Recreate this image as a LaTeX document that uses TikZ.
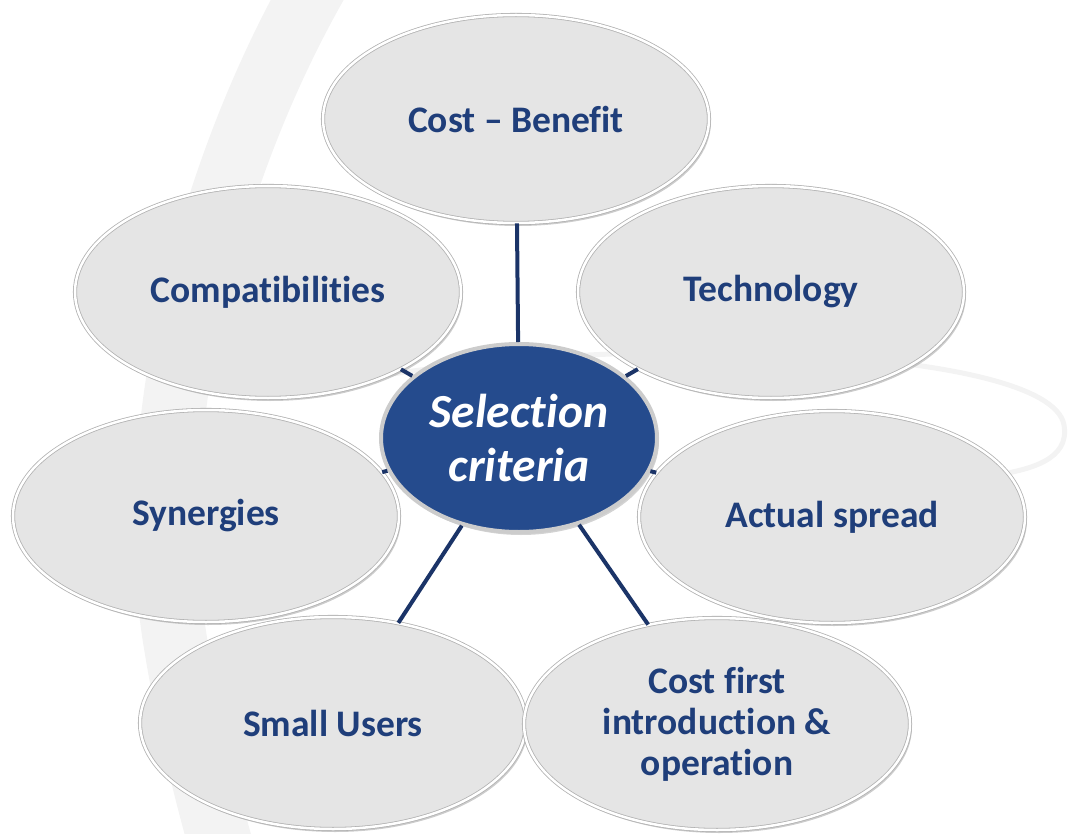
\documentclass[tikz,border=0pt]{standalone}
\usepackage{fontspec}
\setmainfont{Carlito}[Ligatures={TeX,NoCommon}]
\usetikzlibrary{shapes.geometric,shadows}
\definecolor{critblue}{RGB}{31,62,122}
\definecolor{hubblue}{RGB}{37,75,141}
\definecolor{spokeblue}{RGB}{27,52,104}
\definecolor{petalgray}{RGB}{229,229,229}
\definecolor{rimgray}{RGB}{178,178,178}
\definecolor{swooshgray}{RGB}{243,243,243}

\begin{document}
\begin{tikzpicture}[x=1pt, y=-1pt,
	petal/.style={ellipse, minimum width=386pt, minimum height=212pt, inner sep=0pt,
		fill=petalgray, draw=rimgray, line width=0.8pt, double=white, double distance=2.5pt,
		drop shadow={opacity=0.4, shadow xshift=2pt, shadow yshift=-3pt},
		text=critblue, align=center, font=\fontsize{37.5}{41}\selectfont\bfseries},
	hub/.style={ellipse, minimum width=276pt, minimum height=188pt, inner sep=0pt,
		fill=hubblue, draw=gray!40, line width=4pt,
		drop shadow={opacity=0.35, shadow xshift=2pt, shadow yshift=-3pt},
		text=white, align=center, font=\fontsize{47.5}{54}\selectfont\bfseries\itshape},
	spoke/.style={draw=spokeblue, line width=4pt},
	swoosh/.style={draw=swooshgray, line cap=round}]
	\useasboundingbox (0,0) rectangle (1070,834);
	% Background swooshes:
	\draw[swoosh, line width=64pt] (330,-40) .. controls (215,150) and (140,420) .. (175,640) .. controls (188,720) and (205,790) .. (225,860);
	\draw[swoosh, line width=5pt] (330,385) .. controls (600,330) and (1050,345) .. (1064,425) .. controls (1070,460) and (1030,470) .. (990,476);
	% Nodes:
	\node[petal, minimum height=208pt] (costben) at (516,119) {Cost – Benefit};
	\node[petal] (compat) at (268,292) {Compatibilities};
	\node[petal] (tech) at (771,292) {Technology};
	\node[petal] (synerg) at (206,516) {Synergies};
	\node[petal] (spread) at (832,517) {Actual spread};
	\node[petal] (small) at (333,723) {Small Users};
	\node[petal] (costfirst) at (717,724) {Cost first\\introduction \&\\operation};
	\node[hub] (crit) at (519,438) {Selection\\criteria};
	% Spokes:
	\foreach \n in {costben,compat,tech,synerg,spread,small,costfirst}
		\draw[spoke] (crit) -- (\n);
\end{tikzpicture}
\end{document}
